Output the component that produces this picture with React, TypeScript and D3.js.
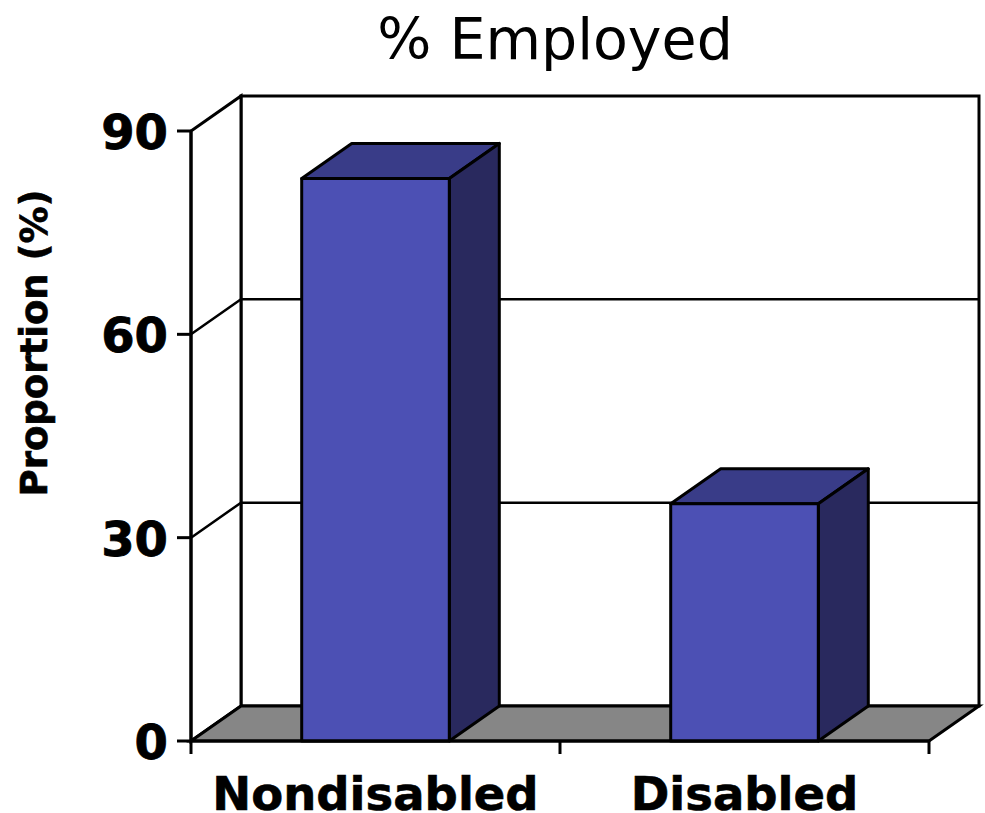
import React from "react";
import * as d3 from "d3";

const categories = ["Nondisabled", "Disabled"];
const employed = [83, 35];
const yTicks = [0, 30, 60, 90];
const titleText = "% Employed";
const yLabel = "Proportion (%)";

const W = 985, H = 813;
const FONT = "'DejaVu Sans', Verdana, sans-serif";
const DX = 50, DY = -35;

export default function App() {
  const y = d3.scaleLinear().domain([0, 90]).range([741, 131]);
  const x = d3.scaleBand<string>().domain(categories).range([191, 929]).paddingInner(0.6).paddingOuter(0.3);
  const x0 = 191, x1 = 929, y0 = y(0), yTop = y(90);
  const sw = 3;
  const poly = (pts: [number, number][]) => d3.line()(pts) + "Z";
  const catEdges = [x0, (x0 + x1) / 2, x1];
  return (
    <svg width={W} height={H} style={{ position: "absolute", left: 0, top: 0 }}>
      <rect width={W} height={H} fill="#fff" />
      {/* walls */}
      <path d={poly([[x0 + DX, y0 + DY], [x0 + DX, yTop + DY], [x1 + DX, yTop + DY], [x1 + DX, y0 + DY]])} fill="#fff" stroke="#000" strokeWidth={sw} />
      <path d={poly([[x0, y0], [x0, yTop], [x0 + DX, yTop + DY], [x0 + DX, y0 + DY]])} fill="#fff" stroke="#000" strokeWidth={sw} />
      <path d={poly([[x0, y0], [x0 + DX, y0 + DY], [x1 + DX, y0 + DY], [x1, y0]])} fill="#868686" stroke="#000" strokeWidth={sw} />
      {/* gridlines */}
      {yTicks.filter(t => t > 0 && t < 90).map(t => (
        <path key={t} d={`M${x0},${y(t)}L${x0 + DX},${y(t) + DY}L${x1 + DX},${y(t) + DY}`} fill="none" stroke="#000" strokeWidth={sw - 0.5} />
      ))}
      {/* bars */}
      {categories.map((c, i) => {
        const l = x(c)!, r = l + x.bandwidth(), t = y(employed[i]);
        return (
          <g key={c} stroke="#000" strokeWidth={sw} strokeLinejoin="round">
            <path d={poly([[l, t], [l + DX, t + DY], [r + DX, t + DY], [r, t]])} fill="#393c88" />
            <path d={poly([[r, t], [r + DX, t + DY], [r + DX, y0 + DY], [r, y0]])} fill="#29295e" />
            <rect x={l} y={t} width={r - l} height={y0 - t} fill="#4c50b4" />
          </g>
        );
      })}
      {/* axes */}
      <line x1={x0} x2={x1} y1={y0} y2={y0} stroke="#000" strokeWidth={sw} />
      <line x1={x0} x2={x0} y1={yTop} y2={y0} stroke="#000" strokeWidth={sw} />
      {yTicks.map(t => (
        <g key={t}>
          <line x1={x0 - 14} x2={x0} y1={y(t)} y2={y(t)} stroke="#000" strokeWidth={sw} />
          <text x={168} y={y(t) + 18} textAnchor="end" fontFamily={FONT} fontWeight="bold" fontSize={48} fill="#000" stroke="#000" strokeWidth={0.8}>{t}</text>
        </g>
      ))}
      {catEdges.map(e => (
        <line key={e} x1={e} x2={e} y1={y0} y2={y0 + 13} stroke="#000" strokeWidth={sw} />
      ))}
      {categories.map(c => (
        <text key={c} x={x(c)! + x.bandwidth() / 2} y={810} textAnchor="middle" fontFamily={FONT} fontWeight="bold" fontSize={46.5} fill="#000" stroke="#000" strokeWidth={0.6}>{c}</text>
      ))}
      <text x={555} y={59} textAnchor="middle" fontFamily={FONT} fontSize={57} fill="#000">{titleText}</text>
      <text transform="translate(47,343) rotate(-90)" textAnchor="middle" fontFamily={FONT} fontWeight="bold" fontSize={37} fill="#000" stroke="#000" strokeWidth={0.6}>{yLabel}</text>
    </svg>
  );
}
